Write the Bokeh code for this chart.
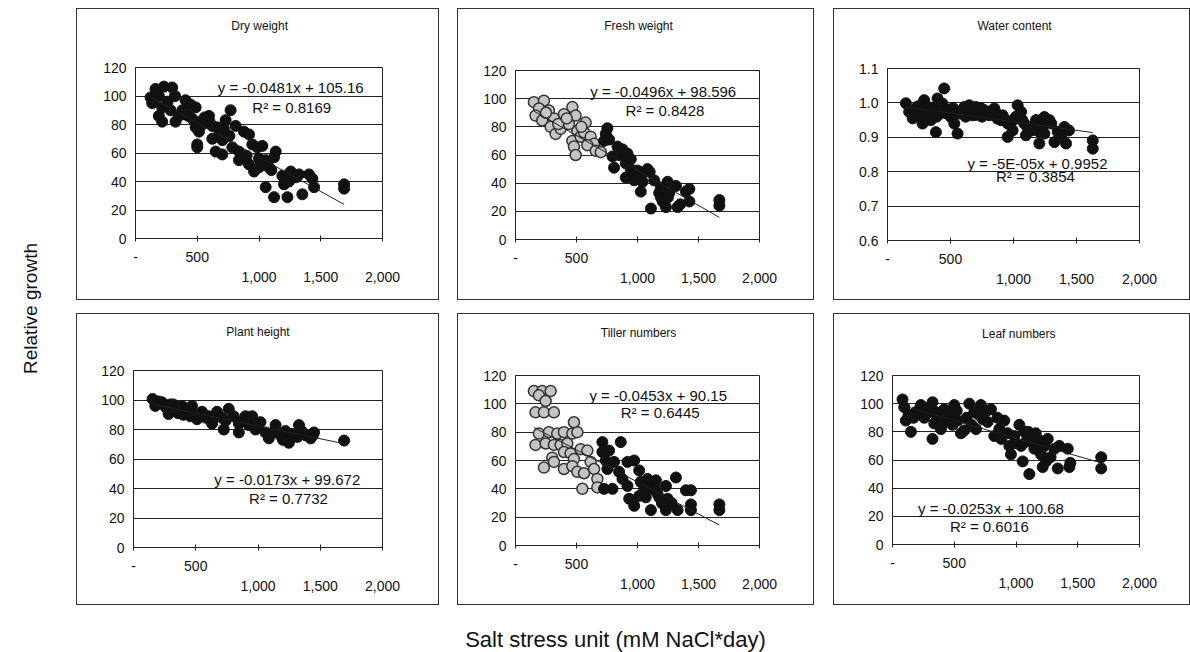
import numpy as np
from bokeh.plotting import figure
from bokeh.layouts import row, column
from bokeh.models import Range1d, FixedTicker, LinearAxis, Spacer, NumeralTickFormatter
from bokeh.core.properties import value
from bokeh.embed import file_html
from bokeh.resources import INLINE

FONT = "Liberation Sans"

# ---------------- data ----------------
titles = ["Dry weight", "Fresh weight", "Water content",
          "Plant height", "Tiller numbers", "Leaf numbers"]
slopes = [-0.0481, -0.0496, -0.00005, -0.0173, -0.0453, -0.0253]
intercepts = [105.16, 98.596, 0.9952, 99.672, 90.15, 100.68]
eq_labels = ["y = -0.0481x + 105.16", "y = -0.0496x + 98.596", "y = -5E-05x + 0.9952",
             "y = -0.0173x + 99.672", "y = -0.0453x + 90.15", "y = -0.0253x + 100.68"]
r2_labels = ["R² = 0.8169", "R² = 0.8428", "R² = 0.3854",
             "R² = 0.7732", "R² = 0.6445", "R² = 0.6016"]

x_ticks = [0, 500, 1000, 1500, 2000]
x_labels_row1 = {0: "-", 500: "500", 1000: "", 1500: "", 2000: ""}
x_labels_row2 = {1000: "1,000", 1500: "1,500", 2000: "2,000"}
pct_ticks = [0, 20, 40, 60, 80, 100, 120]
water_ticks = [0.6, 0.7, 0.8, 0.9, 1.0, 1.1]

dry_x = [162, 230, 297, 189, 149, 216, 189, 216, 284, 324, 351, 405, 446, 487, 405, 460, 487, 527, 514, 595,
         622, 662, 716, 730, 703, 500, 500, 770, 811, 622, 649, 703, 784, 838, 838, 878, 919, 946, 987, 1027,
         919, 960, 1000, 1041, 1081, 1054, 1135, 1122, 1054, 1122, 1230, 1351, 1189, 1257, 1243, 1203, 1324, 1405, 1432, 1446,
         1689, 1689, 122, 135, 260, 320, 380, 430, 540, 560, 600, 680, 760, 900, 1000, 1100, 1300]
dry_y = [105, 106.6, 106, 100, 97, 92, 86, 82, 90, 82, 86, 97, 94, 92, 87, 84, 78, 82, 75, 86,
         79, 78, 77, 83, 69, 66, 64, 90, 79, 70, 61, 59, 64, 61, 55, 75, 73, 66, 64, 65,
         52, 47, 50, 52, 50, 55, 61, 57, 36, 29, 29, 31, 44, 47, 40, 38, 45, 45, 42, 36,
         38, 35, 99, 95, 96, 100, 90, 86, 80, 85, 82, 72, 72, 58, 56, 48, 43]

fresh_gray_x = [151, 233, 192, 164, 219, 274, 315, 288, 329, 370, 397, 466, 493, 438, 507, 466, 479, 534, 575, 562,
                616, 644, 589, 658, 699, 493, 250, 350, 420, 540]
fresh_gray_y = [97.5, 98.6, 93, 88, 84.5, 91.6, 86, 80, 75, 78.6, 89, 94, 88, 82, 77, 70, 66, 73, 83, 76,
                73, 68, 67, 63, 62, 60, 90, 82, 86, 80]
fresh_x = [753, 740, 767, 726, 795, 808, 836, 877, 918, 945, 904, 945, 904, 973, 1000, 1041, 1082, 1041, 1027, 1110,
           1178, 1192, 1247, 1315, 1206, 1233, 1329, 1397, 1425, 1425, 1671, 1671, 1192, 1260, 1137,
           850, 960, 1100, 1250, 1350]
fresh_y = [79, 75, 71, 70, 59, 51, 66, 64, 61, 57, 54, 50, 44, 42, 49, 47, 50, 41, 34, 22,
           33, 37, 41, 38, 27, 23, 23, 34, 36, 27, 28, 24, 30, 33, 42,
           60, 45, 48, 30, 25]

water_x = [146, 172, 225, 252, 291, 318, 278, 344, 384, 397, 450, 437, 477, 410, 503, 530, 556, 569, 609, 649,
           675, 702, 728, 768, 808, 848, 874, 914, 954, 954, 993, 1033, 1060, 1086, 1099, 1139, 1179, 1205, 1205, 1245,
           1245, 1285, 1325, 1351, 1404, 1417, 1629, 1629, 200, 330, 360, 420, 600, 640, 700, 750, 900, 1000, 1110,
           240, 300, 350, 390, 460, 520, 580, 620, 680, 740, 790, 820, 880, 940, 1020, 1070, 1150, 1230, 1300, 1380, 1440]
water_y = [0.999, 0.974, 0.984, 0.964, 1.008, 0.989, 0.940, 0.950, 0.915, 1.013, 1.042, 0.998, 0.979, 0.969, 0.959,
           0.940, 0.911, 0.969, 0.988, 0.993, 0.964, 0.988, 0.974, 0.979, 0.964, 0.984, 0.954, 0.964, 0.940, 0.901,
           0.920, 0.993, 0.974, 0.940, 0.906, 0.930, 0.950, 0.916, 0.882, 0.959, 0.911, 0.950, 0.886, 0.916, 0.930,
           0.882, 0.891, 0.867, 0.955, 0.960, 0.975, 0.990, 0.975, 0.970, 0.965, 0.960, 0.950, 0.950, 0.930,
           0.990, 0.975, 0.985, 0.960, 0.970, 0.985, 0.975, 0.960, 0.980, 0.985, 0.970, 0.975, 0.965, 0.950,
           0.960, 0.950, 0.920, 0.930, 0.940, 0.900, 0.920]

plant_x = [153, 175, 228, 295, 282, 336, 389, 430, 470, 456, 510, 550, 604, 631, 671, 711, 725, 765, 805, 846,
           846, 899, 953, 926, 980, 1020, 1060, 1087, 1141, 1181, 1221, 1248, 1275, 1316, 1329, 1383, 1423, 1450, 1692,
           200, 260, 320, 360, 400, 500, 580, 650, 740, 880, 1000, 1120, 1200, 1350, 1440]
plant_y = [100.7, 96, 98.5, 97, 90.5, 94, 96, 93, 96, 89, 87, 92, 89, 84, 92, 88, 80, 94, 89, 84,
           78, 89, 89, 83, 80, 85, 78, 74, 83, 76, 79, 71, 77, 75, 83, 76, 74, 78, 72.5,
           99, 95, 97, 91, 90, 90, 88, 88, 86, 86, 82, 78, 73, 79, 76]

tiller_gray_x = [151, 219, 288, 192, 247, 164, 233, 315, 192, 274, 342, 397, 466, 507, 164, 247, 315, 370, 425, 479,
                 301, 315, 233, 397, 452, 479, 534, 589, 397, 466, 507, 562, 616, 644, 671, 548, 671]
tiller_gray_y = [109, 109, 109, 106, 102, 94, 94, 94, 79, 80, 79, 80, 79, 80, 71, 72, 71, 71, 72, 87,
                 62, 59, 55, 66, 65, 61, 68, 67, 54, 56, 52, 51, 59, 54, 47, 40, 41]
tiller_x = [712, 712, 740, 753, 726, 795, 767, 808, 863, 849, 877, 918, 918, 973, 932, 973, 1014, 1027, 1055, 1082,
            1110, 1137, 1151, 1178, 1233, 1247, 1233, 1315, 1329, 1397, 1438, 1438, 1438, 1671, 1671, 1068, 1014,
            1100, 1200, 1280, 1160]
tiller_y = [73, 66, 60, 54, 40, 40, 67, 59, 73, 52, 47, 42, 59, 60, 33, 28, 53, 45, 40, 47,
            25, 41, 46, 34, 42, 33, 25, 48, 25, 39, 39, 29, 25, 29, 25, 34, 35,
            40, 30, 30, 37]

leaf_x = [81, 95, 108, 149, 189, 230, 257, 297, 324, 338, 324, 365, 392, 419, 432, 473, 500, 486, 527, 554,
          581, 622, 662, 676, 716, 730, 770, 797, 824, 865, 905, 932, 946, 959, 986, 1027, 1041, 1068, 1081, 1054,
          1108, 1149, 1176, 1203, 1216, 1257, 1311, 1338, 1419, 1432, 1690, 1690, 1243, 1122,
          130, 170, 260, 350, 400, 450, 520, 600, 640, 700, 750, 850, 880, 1000, 1100, 1160, 1230, 1280, 1350, 1440]
leaf_y = [103, 97.5, 88, 80, 94, 99, 90, 94, 101, 86, 75, 90, 82, 96, 88, 94, 99, 85, 88, 79,
          81, 100, 94, 82, 99, 89, 87, 96, 77, 82, 88, 79, 70, 64, 77, 85, 70, 80, 73, 59,
          50, 68, 75, 64, 55, 75, 68, 54, 68, 55, 62, 54, 59, 73,
          92, 90, 97, 94, 85, 92, 95, 90, 85, 92, 94, 90, 75, 72, 80, 79, 70, 62, 70, 58]

# ---------------- layout / styling ----------------
panel_data = [
    ((dry_x, dry_y), ([], [])),
    ((fresh_x, fresh_y), (fresh_gray_x, fresh_gray_y)),
    ((water_x, water_y), ([], [])),
    ((plant_x, plant_y), ([], [])),
    ((tiller_x, tiller_y), (tiller_gray_x, tiller_gray_y)),
    ((leaf_x, leaf_y), ([], [])),
]
# box width, (left, right, top, bottom) borders inside the box, title centre below box top (px),
# eq pos, r2 pos (data units)
panel_style = [
    (363, (58, 56, 58, 61), 16, (1257, 106), (1265, 92)),
    (357, (57, 54, 61, 60), 16, (1211, 105), (1225, 91.6)),
    (357, (53, 50, 59, 59), 16, (1190, 0.823), (1174, 0.787)),
    (363, (56, 56, 56, 57), 17, (1235, 46.4), (1245, 33.3)),
    (357, (57, 54, 61, 59), 18, (1170, 106), (1186, 93.6)),
    (357, (58, 50, 61, 60), 19, (797, 25.5), (784, 12.5)),
]
BOX_H = 292
TITLE_H = 30
LINE = "#333"
TICK_FS = "14px"


def hline(w):
    return Spacer(width=w, height=1, styles={"background-color": LINE})


def vline(h):
    return Spacer(width=1, height=h, styles={"background-color": LINE})


def make_panel(i):
    (dx, dy), (gx, gy) = panel_data[i]
    W, (bl, br, bt, bb), tcy, eqpos, r2pos = panel_style[i]
    fw, fh = W - 2, BOX_H - 2
    water = (i == 2)
    y0, y1 = (0.6, 1.1) if water else (0, 120)

    # title strip
    tf = figure(width=fw, height=TITLE_H, x_range=Range1d(0, fw), y_range=Range1d(0, TITLE_H),
                output_backend="svg", toolbar_location=None, min_border=0,
                x_axis_type=None, y_axis_type=None)
    tf.grid.visible = False
    tf.outline_line_color = None
    frame_w = fw - bl - br
    tf.text(x=[bl + frame_w / 2], y=[TITLE_H - tcy], text=[titles[i]], text_font=value(FONT),
            text_font_size="12px", text_align="center", text_baseline="middle", text_color="#111")

    p = figure(width=fw, height=fh - TITLE_H, x_range=Range1d(0, 2000), y_range=Range1d(y0, y1),
               output_backend="svg", toolbar_location=None,
               min_border_left=bl, min_border_right=br, min_border_top=bt - TITLE_H, min_border_bottom=bb,
               background_fill_color="white", border_fill_color="white")
    p.outline_line_color = "#222"
    p.outline_line_width = 1
    p.xgrid.visible = False
    p.ygrid.grid_line_color = "#222"
    p.ygrid.grid_line_width = 1

    # y axis
    p.yaxis.ticker = FixedTicker(ticks=water_ticks if water else pct_ticks)
    if water:
        p.yaxis.formatter = NumeralTickFormatter(format="0.0")
    p.yaxis.major_tick_out = 0
    p.yaxis.major_tick_in = 0
    p.yaxis.minor_tick_line_color = None
    p.yaxis.major_label_standoff = 9
    p.yaxis.axis_line_color = "#222"
    p.yaxis.major_label_text_font = FONT
    p.yaxis.major_label_text_font_size = TICK_FS
    p.yaxis.major_label_text_color = "#111"

    # x axis (first label row)
    p.xaxis.ticker = FixedTicker(ticks=x_ticks)
    p.xaxis.major_label_overrides = x_labels_row1
    p.xaxis.major_tick_in = 3
    p.xaxis.major_tick_out = 3
    p.xaxis.major_tick_line_color = "#222"
    p.xaxis.minor_tick_line_color = None
    p.xaxis.axis_line_color = "#222"
    p.xaxis.major_label_standoff = 10
    p.xaxis.major_label_text_font = FONT
    p.xaxis.major_label_text_font_size = TICK_FS
    p.xaxis.major_label_text_color = "#111"

    # x axis (second, staggered label row)
    ax2 = LinearAxis(ticker=FixedTicker(ticks=list(x_labels_row2.keys())),
                     major_label_overrides=x_labels_row2,
                     axis_line_color=None, major_tick_line_color=None, minor_tick_line_color=None,
                     major_tick_out=0, major_tick_in=0, major_label_standoff=7,
                     major_label_text_font=FONT, major_label_text_font_size=TICK_FS,
                     major_label_text_color="#111")
    p.add_layout(ax2, "below")

    if gx:
        p.scatter(gx, gy, size=11, fill_color="#c4c4c4", line_color="#333", line_width=1.5)
    p.scatter(dx, dy, size=11, fill_color="#111", line_color="#111")

    allx = np.array(list(dx) + list(gx), dtype=float)
    xl = np.array([allx.min(), allx.max()])
    p.line(xl, slopes[i] * xl + intercepts[i], line_color="#222", line_width=1)

    p.text(x=[eqpos[0]], y=[eqpos[1]], text=[eq_labels[i]], text_font=value(FONT),
           text_font_size="15px", text_align="center", text_baseline="middle", text_color="#111")
    p.text(x=[r2pos[0]], y=[r2pos[1]], text=[r2_labels[i]], text_font=value(FONT),
           text_font_size="15px", text_align="center", text_baseline="middle", text_color="#111")

    inner = column(tf, p)
    return column(hline(W), row(vline(fh), inner, vline(fh)), hline(W))


panels = [make_panel(i) for i in range(6)]

row1 = row(panels[0], Spacer(width=18, height=BOX_H), panels[1],
           Spacer(width=19, height=BOX_H), panels[2])
row2 = row(panels[3], Spacer(width=18, height=BOX_H), panels[4],
           Spacer(width=19, height=BOX_H), panels[5])
grid = column(row1, Spacer(width=1114, height=13), row2)

# y label strip
YL_W, YL_H = 76, BOX_H * 2 + 13
ylab = figure(width=YL_W, height=YL_H, x_range=Range1d(0, YL_W), y_range=Range1d(0, YL_H),
              output_backend="svg", toolbar_location=None, min_border=0,
              x_axis_type=None, y_axis_type=None)
ylab.grid.visible = False
ylab.outline_line_color = None
ylab.text(x=[30], y=[YL_H - 300], text=["Relative growth"], angle=np.pi / 2,
          text_font=value(FONT), text_font_size="19px", text_align="center",
          text_baseline="middle", text_color="#111")

# x label strip
XL_W, XL_H = 1190, 47
xlab = figure(width=XL_W, height=XL_H, x_range=Range1d(0, XL_W), y_range=Range1d(0, XL_H),
              output_backend="svg", toolbar_location=None, min_border=0,
              x_axis_type=None, y_axis_type=None)
xlab.grid.visible = False
xlab.outline_line_color = None
xlab.text(x=[615], y=[13], text=["Salt stress unit (mM NaCl*day)"],
          text_font=value(FONT), text_font_size="22px", text_align="center",
          text_baseline="middle", text_color="#111")

layout = column(Spacer(width=1190, height=8), row(ylab, grid), xlab)

open("out.html", "w").write(file_html(layout, INLINE))
